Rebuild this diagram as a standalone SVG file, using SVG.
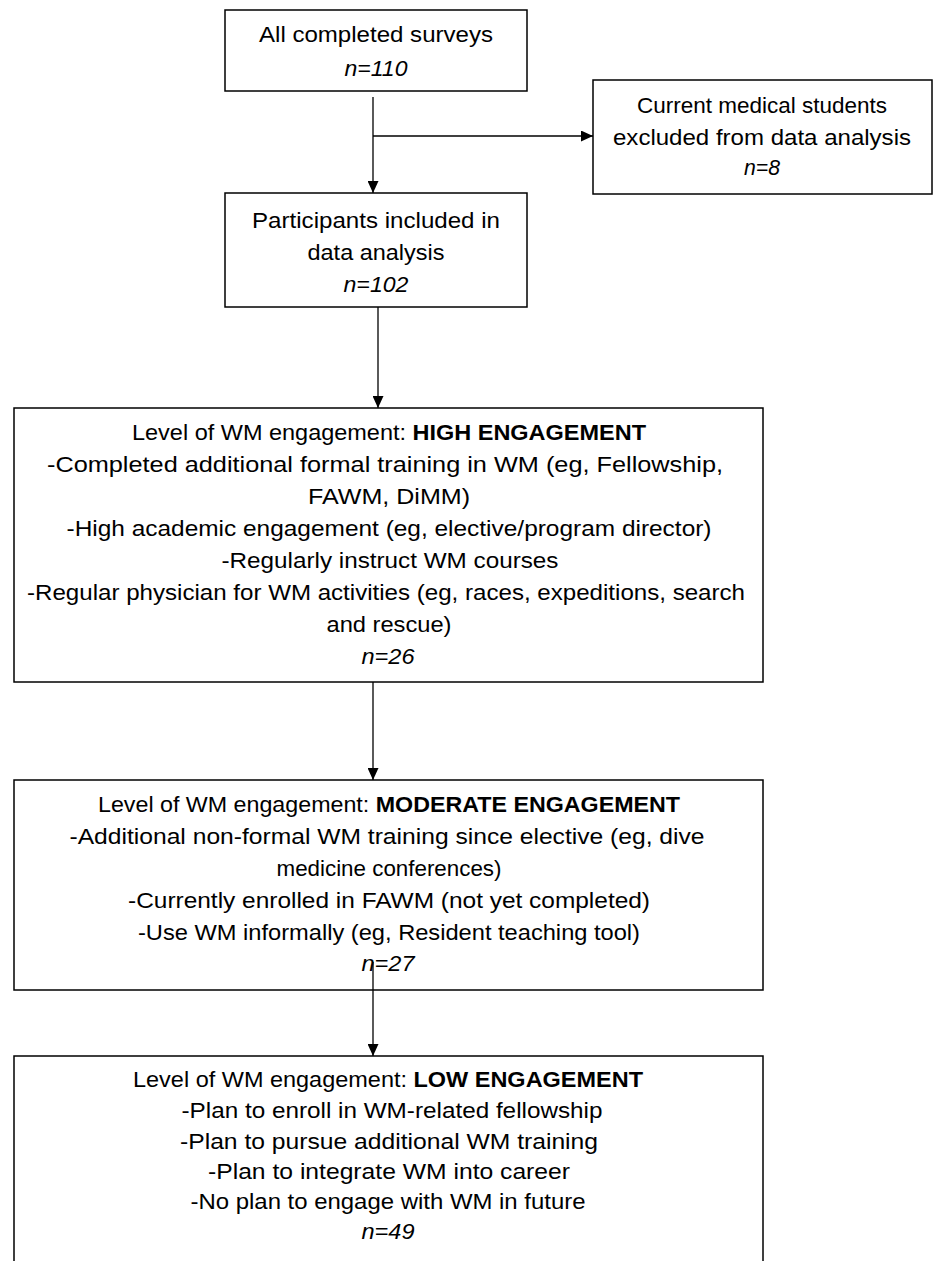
<svg xmlns="http://www.w3.org/2000/svg" width="933" height="1261" viewBox="0 0 933 1261">
<style>
.box{fill:#fff;stroke:#000;stroke-width:1.5}
.t{font-family:"Liberation Sans",Arial,sans-serif;font-size:22px;fill:#000;text-anchor:middle}
.i{font-style:italic}
.b{font-weight:bold}
.c{stroke:#000;stroke-width:1.3;fill:none}
</style>
<defs>
<marker id="ah" markerWidth="12" markerHeight="11" refX="12" refY="5.5" orient="auto" markerUnits="userSpaceOnUse">
<path d="M0,0 L12,5.5 L0,11 Z" fill="#000"/>
</marker>
</defs>
<g id="all-surveys">
<rect class="box" x="225" y="10" width="302" height="81"/>
<text class="t" x="376" y="42" textLength="234" lengthAdjust="spacingAndGlyphs">All completed surveys</text>
<text class="t i" x="376" y="76" textLength="63" lengthAdjust="spacingAndGlyphs">n=110</text>
</g>
<g id="excluded">
<rect class="box" x="593" y="80" width="339" height="114"/>
<text class="t" x="762" y="113" textLength="250" lengthAdjust="spacingAndGlyphs">Current medical students</text>
<text class="t" x="762" y="145" textLength="298" lengthAdjust="spacingAndGlyphs">excluded from data analysis</text>
<text class="t i" x="762" y="175" textLength="36" lengthAdjust="spacingAndGlyphs">n=8</text>
</g>
<g id="participants">
<rect class="box" x="225" y="193" width="302" height="114"/>
<text class="t" x="376" y="228" textLength="248" lengthAdjust="spacingAndGlyphs">Participants included in</text>
<text class="t" x="376" y="260" textLength="137" lengthAdjust="spacingAndGlyphs">data analysis</text>
<text class="t i" x="376" y="292" textLength="65" lengthAdjust="spacingAndGlyphs">n=102</text>
</g>
<g id="high">
<rect class="box" x="14" y="408" width="749" height="274"/>
<text class="t" x="389" y="440" textLength="514" lengthAdjust="spacingAndGlyphs">Level of WM engagement: <tspan class="b">HIGH ENGAGEMENT</tspan></text>
<text class="t" x="385" y="472" textLength="676" lengthAdjust="spacingAndGlyphs">-Completed additional formal training in WM (eg, Fellowship,</text>
<text class="t" x="389" y="504" textLength="162" lengthAdjust="spacingAndGlyphs">FAWM, DiMM)</text>
<text class="t" x="389" y="536" textLength="645" lengthAdjust="spacingAndGlyphs">-High academic engagement (eg, elective/program director)</text>
<text class="t" x="390" y="568" textLength="337" lengthAdjust="spacingAndGlyphs">-Regularly instruct WM courses</text>
<text class="t" x="386" y="600" textLength="718" lengthAdjust="spacingAndGlyphs">-Regular physician for WM activities (eg, races, expeditions, search</text>
<text class="t" x="389" y="632" textLength="125" lengthAdjust="spacingAndGlyphs">and rescue)</text>
<text class="t i" x="388" y="664" textLength="53" lengthAdjust="spacingAndGlyphs">n=26</text>
</g>
<g id="moderate">
<rect class="box" x="14" y="780" width="749" height="210"/>
<text class="t" x="389" y="812" textLength="582" lengthAdjust="spacingAndGlyphs">Level of WM engagement: <tspan class="b">MODERATE ENGAGEMENT</tspan></text>
<text class="t" x="387" y="844" textLength="635" lengthAdjust="spacingAndGlyphs">-Additional non-formal WM training since elective (eg, dive</text>
<text class="t" x="389" y="876" textLength="225" lengthAdjust="spacingAndGlyphs">medicine conferences)</text>
<text class="t" x="389" y="908" textLength="522" lengthAdjust="spacingAndGlyphs">-Currently enrolled in FAWM (not yet completed)</text>
<text class="t" x="389" y="940" textLength="502" lengthAdjust="spacingAndGlyphs">-Use WM informally (eg, Resident teaching tool)</text>
<text class="t i" x="388" y="971" textLength="53" lengthAdjust="spacingAndGlyphs">n=27</text>
</g>
<g id="low">
<rect class="box" x="14" y="1056" width="749" height="230"/>
<text class="t" x="388" y="1087" textLength="510" lengthAdjust="spacingAndGlyphs">Level of WM engagement: <tspan class="b">LOW ENGAGEMENT</tspan></text>
<text class="t" x="392" y="1118" textLength="421" lengthAdjust="spacingAndGlyphs">-Plan to enroll in WM-related fellowship</text>
<text class="t" x="389" y="1149" textLength="418" lengthAdjust="spacingAndGlyphs">-Plan to pursue additional WM training</text>
<text class="t" x="389" y="1179" textLength="362" lengthAdjust="spacingAndGlyphs">-Plan to integrate WM into career</text>
<text class="t" x="388" y="1209" textLength="395" lengthAdjust="spacingAndGlyphs">-No plan to engage with WM in future</text>
<text class="t i" x="388" y="1239" textLength="53" lengthAdjust="spacingAndGlyphs">n=49</text>
</g>
<g id="connectors">
<line class="c" x1="373" y1="97" x2="373" y2="193" marker-end="url(#ah)"/>
<line class="c" x1="373" y1="136" x2="593" y2="136" marker-end="url(#ah)"/>
<line class="c" x1="378" y1="307" x2="378" y2="408" marker-end="url(#ah)"/>
<line class="c" x1="373" y1="682" x2="373" y2="780" marker-end="url(#ah)"/>
<line class="c" x1="373" y1="962" x2="373" y2="1056" marker-end="url(#ah)"/>
</g>
</svg>
